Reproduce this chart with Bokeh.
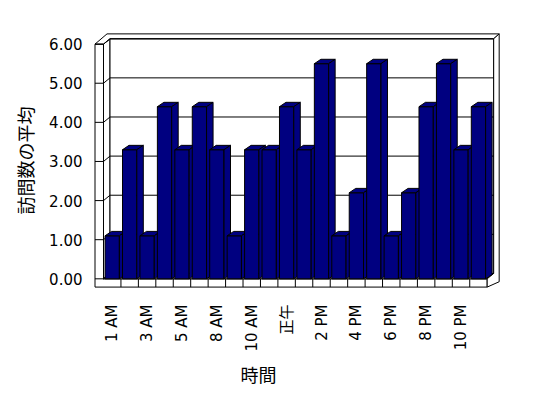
import math
from bokeh.plotting import figure
from bokeh.models import FixedTicker, NumeralTickFormatter, Title, Range1d
from bokeh.embed import file_html
from bokeh.resources import INLINE

# ---------------- data ----------------
hours = ["1 AM", "2 AM", "3 AM", "4 AM", "5 AM", "7 AM", "8 AM", "9 AM", "10 AM", "11 AM", "正午",
         "1 PM", "2 PM", "3 PM", "4 PM", "5 PM", "6 PM", "7 PM", "8 PM", "9 PM", "10 PM", "11 PM"]
avg_visits = [1.1, 3.3, 1.1, 4.4, 3.3, 4.4, 3.3, 1.1, 3.3, 3.3, 4.4,
              3.3, 5.5, 1.1, 2.2, 5.5, 1.1, 2.2, 4.4, 5.5, 3.3, 4.4]
y_ticks = [0, 1, 2, 3, 4, 5, 6]
y_title = "訪問数の平均"
x_title = "時間"

# ---------------- layout (pixel geometry of the 3-D box) ----------------
PX_X = 17.44          # px per category slot
PX_Y = 40.17          # px per value unit
X0 = 103 + PX_X / 2   # screen x of first category centre
Y0 = 285              # screen y of value 0 (front plane)

def sx(px):
    return (px - X0) / PX_X

def sy(py):
    return (Y0 - py) / PX_Y

n = len(hours)
ymax = max(y_ticks)
XL, XR = -0.5, n - 0.5
DX, DY = 6.5 / PX_X, 5.5 / PX_Y      # floor depth
TX, TY = 5.5 / PX_X, 5.0 / PX_Y      # back wall thickness
WT = 8.5 / PX_X                      # left wall thickness
FT = 8.5 / PX_Y                      # floor thickness
BDX, BDY = 6.5 / PX_X, 4.5 / PX_Y    # bar depth
BH = 0.41                            # half bar width

FL, FR, FTOP, FB = 93, 500, 30, 297  # frame edges on screen
W, H = 540, 390
p = figure(width=W, height=H, output_backend="svg", toolbar_location=None,
           x_range=Range1d(sx(FL), sx(FR)), y_range=Range1d(sy(FB), sy(FTOP)),
           min_border_left=FL, min_border_right=W - FR, min_border_top=FTOP, min_border_bottom=H - FB)
p.outline_line_color = None
p.xgrid.visible = False
p.ygrid.visible = False
p.background_fill_color = "white"
p.border_fill_color = "white"

# ---- walls / floor ----
wall_xs = [
    [XL - WT, XL - WT, XL, XL, XR, XR],
    [XL, XL, XL + DX, XL + DX],
    [XL, XR, XR + DX, XL + DX],
    [XL + DX, XR + DX, XR + DX, XL + DX],
    [XL - WT, XL - WT + DX + TX, XR + DX + TX, XR + DX, XL + DX, XL],
    [XR, XR + DX, XR + DX, XR + DX + TX, XR + DX + TX, XR],
]
wall_ys = [
    [-FT, ymax, ymax, 0, 0, -FT],
    [0, ymax, ymax + DY, DY],
    [0, 0, DY, DY],
    [DY, DY, ymax + DY, ymax + DY],
    [ymax, ymax + DY + TY, ymax + DY + TY, ymax + DY, ymax + DY, ymax],
    [0, DY, ymax + DY, ymax + DY + TY, -FT + DY, -FT],
]
p.patches(wall_xs, wall_ys, fill_color="white", line_color="black", line_width=1)

# ---- gridlines & ticks ----
gx0, gy0, gx1, gy1 = [], [], [], []
for v in y_ticks:
    gx0.append(XL - WT); gy0.append(v); gx1.append(XL); gy1.append(v)
    gx0.append(XL); gy0.append(v); gx1.append(XL + DX); gy1.append(v + DY)
    gx0.append(XL + DX); gy0.append(v + DY); gx1.append(XR + DX); gy1.append(v + DY)
for i in range(1, n):
    gx0.append(i - 0.5); gy0.append(0); gx1.append(i - 0.5); gy1.append(-FT)
p.segment(gx0, gy0, gx1, gy1, line_color="black", line_width=1)

# ---- bars (front, top, side for each, left to right) ----
bxs, bys = [], []
for i, v in enumerate(avg_visits):
    x0, x1 = i - BH, i + BH
    bxs.append([x0, x1, x1, x0]); bys.append([0, 0, v, v])
    bxs.append([x0, x1, x1 + BDX, x0 + BDX]); bys.append([v, v, v + BDY, v + BDY])
    bxs.append([x1, x1 + BDX, x1 + BDX, x1]); bys.append([0, BDY, v + BDY, v])
p.patches(bxs, bys, fill_color="#000080", line_color="black", line_width=1)

FONT = "DejaVu Sans, Noto Sans CJK JP"

# ---- axes ----
p.yaxis.ticker = FixedTicker(ticks=y_ticks)
p.yaxis.formatter = NumeralTickFormatter(format="0.00")
p.yaxis.axis_line_color = None
p.yaxis.major_tick_line_color = None
p.yaxis.minor_tick_line_color = None
p.yaxis.major_tick_out = 0
p.yaxis.major_label_standoff = 11
p.yaxis.major_label_text_font = FONT
p.yaxis.major_label_text_font_size = "15px"
p.yaxis.major_label_text_color = "black"

p.xaxis.ticker = FixedTicker(ticks=list(range(0, n, 2)))
p.xaxis.major_label_overrides = {i: hours[i] for i in range(0, n, 2)}
p.xaxis.major_label_orientation = math.pi / 2
p.xaxis.axis_line_color = None
p.xaxis.major_tick_line_color = None
p.xaxis.minor_tick_line_color = None
p.xaxis.major_tick_out = 0
p.xaxis.major_label_standoff = 14
p.xaxis.major_label_text_font = FONT
p.xaxis.major_label_text_font_size = "15px"
p.xaxis.major_label_text_color = "black"

# ---- axis titles ----
p.add_layout(Title(text=y_title, align="center", offset=-11.5, standoff=17,
                   text_font="Noto Sans CJK JP", text_font_size="18px",
                   text_font_style="normal", text_color="black"), "left")
p.add_layout(Title(text=x_title, align="left", offset=147, standoff=8,
                   text_font="Noto Sans CJK JP", text_font_size="18px",
                   text_font_style="normal", text_color="black"), "below")

open("out.html", "w").write(file_html(p, INLINE))
